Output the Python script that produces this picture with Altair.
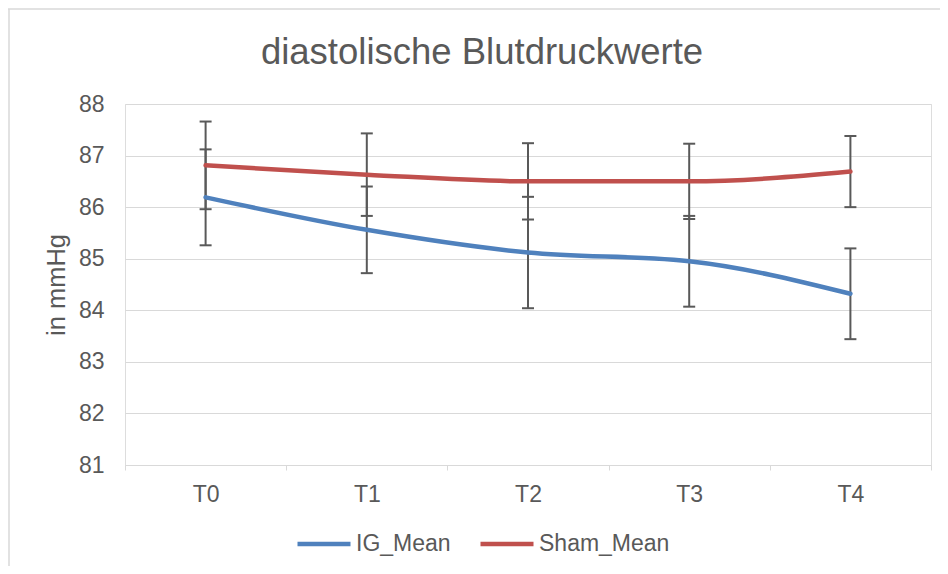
import altair as alt
import pandas as pd

times = ["T0", "T1", "T2", "T3", "T4"]
series = ["IG_Mean", "Sham_Mean"]
colors = ["#4F81BD", "#C0504D"]
ig_mean = [86.19, 85.56, 85.12, 84.95, 84.32]
ig_err = [0.93, 0.84, 1.08, 0.88, 0.88]
sham_mean = [86.81, 86.63, 86.50, 86.50, 86.69]
sham_err = [0.85, 0.80, 0.74, 0.73, 0.69]
y_ticks = [81, 82, 83, 84, 85, 86, 87, 88]
title_text = "diastolische Blutdruckwerte"

rows = []
for s, means, errs in ((series[0], ig_mean, ig_err), (series[1], sham_mean, sham_err)):
    for t, m, e in zip(times, means, errs):
        rows.append({"time": t, "series": s, "mean": m, "lo": m - e, "hi": m + e})
df = pd.DataFrame(rows)

FONT = "Liberation Sans"
GREY = "#595959"
W, H = 806, 361

xscale = alt.Scale(type="band", domain=times, paddingInner=0, paddingOuter=0)
yscale = alt.Scale(domain=[81, 88], nice=False, zero=False)

x_enc = alt.X(
    "time:N", scale=xscale, bandPosition=0.5,
    axis=alt.Axis(title=None, labelAngle=0, tickBand="extent", domainColor="#d9d9d9",
                  tickColor="#d9d9d9", tickSize=5, labelFontSize=23, labelColor=GREY,
                  labelFont=FONT, labelPadding=13, grid=False),
)

base = alt.Chart(df)

grid_axis = alt.Axis(values=y_ticks, format="d", title="in mmHg", grid=True, gridColor="#d9d9d9",
                     domain=False, ticks=False, labelFontSize=23, labelColor=GREY,
                     labelFont=FONT, labelPadding=21, titleFont=FONT, titleFontSize=25.5,
                     titleColor=GREY, titleFontWeight="normal", titleX=-61, titleY=H / 2,
                     titleAngle=270, titleBaseline="alphabetic", titleAlign="center")

err = base.mark_rule(color=GREY, strokeWidth=2).encode(
    x=x_enc, y=alt.Y("lo:Q", scale=yscale, axis=grid_axis), y2="hi:Q")
cap_hi = base.mark_tick(color=GREY, size=12, thickness=2, opacity=1).encode(
    x=alt.X("time:N", scale=xscale, bandPosition=0.5), y=alt.Y("hi:Q", scale=yscale))
cap_lo = base.mark_tick(color=GREY, size=12, thickness=2, opacity=1).encode(
    x=alt.X("time:N", scale=xscale, bandPosition=0.5), y=alt.Y("lo:Q", scale=yscale))

lines = base.mark_line(strokeWidth=4.5, interpolate="monotone", strokeCap="round").encode(
    x=alt.X("time:N", scale=xscale, bandPosition=0.5),
    y=alt.Y("mean:Q", scale=yscale),
    color=alt.Color("series:N", scale=alt.Scale(domain=series, range=colors),
                    legend=alt.Legend(title=None, orient="none", legendX=170, legendY=411,
                                      direction="horizontal", symbolType="stroke",
                                      symbolSize=2809, symbolStrokeWidth=4.5,
                                      labelFontSize=23, labelColor=GREY, labelFont=FONT,
                                      labelOffset=3, columnPadding=20)),
)

frame_df = pd.DataFrame({"k": [0]})
frame_top = alt.Chart(frame_df).mark_rule(color="#d9d9d9", strokeWidth=1.5).encode(
    x=alt.value(-117), x2=alt.value(815), y=alt.value(-95))
frame_left = alt.Chart(frame_df).mark_rule(color="#d9d9d9", strokeWidth=1.5).encode(
    x=alt.value(-116), y=alt.value(-95), y2=alt.value(480))
title = alt.Chart(frame_df).mark_text(font=FONT, fontSize=36.5, color=GREY, align="center",
                                       baseline="alphabetic").encode(
    x=alt.value(357), y=alt.value(-40), text=alt.value(title_text))

chart = alt.layer(frame_top, frame_left, title, err, cap_hi, cap_lo, lines).properties(
    width=W, height=H,
    autosize=alt.AutoSizeParams(type="none"),
    padding={"left": 117, "top": 96, "right": 9, "bottom": 101},
).configure_view(stroke=None).configure(background="white")

chart.save("out.html", embed_options={"renderer": "svg", "actions": False})
